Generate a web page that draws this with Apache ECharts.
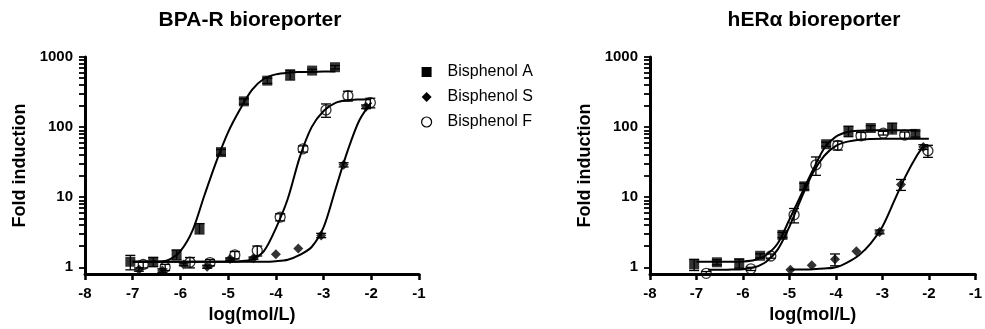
<!DOCTYPE html>
<html>
<head>
<meta charset="utf-8">
<title>BPA-R / hERa bioreporter</title>
<script src="https://cdn.jsdelivr.net/npm/echarts@6/dist/echarts.min.js"></script>
<style>
  html, body { margin: 0; padding: 0; background: #fff; }
  #chart { width: 985px; height: 329px; }
</style>
</head>
<body>
<div id="chart"></div>
<script>
// 坐标轴刻度
var yMajor = [1, 10, 100, 1000];
var yMinor = [2, 3, 4, 5, 6, 7, 8, 9, 20, 30, 40, 50, 60, 70, 80, 90, 200, 300, 400, 500, 600, 700, 800, 900];
var seriesNames = ["Bisphenol A", "Bisphenol S", "Bisphenol F"];

// ---- BPA-R bioreporter (left) ----
// Bisphenol A
var bpaA_x = [-7.05, -6.57, -6.08, -5.6, -5.15, -4.67, -4.18, -3.7, -3.24, -2.76];
var bpaA_y = [1.2, 1.2, 1.52, 3.6, 44, 233, 460, 560, 640, 715];
var bpaA_err = [0.28, 0.18, 0.24, 0.6, 4, 20, 40, 90, 30, 40];
var bpaA_fitX = [-7.0, -6.75, -6.5, -6.25, -6.0, -5.75, -5.5, -5.25, -5.0, -4.75, -4.5, -4.25, -4.0, -3.75, -3.5, -3.25, -3.0, -2.75];
var bpaA_fitY = [1.2, 1.2, 1.2, 1.27, 1.7, 3.3, 10.5, 32, 85, 180, 340, 490, 565, 598, 610, 616, 619, 620];
// Bisphenol S
var bpaS_x = [-6.87, -6.38, -5.93, -5.44, -4.96, -4.47, -4.0, -3.53, -3.05, -2.58, -2.11];
var bpaS_y = [0.93, 0.9, 1.1, 1.02, 1.31, 1.35, 1.53, 1.85, 2.85, 29, 195];
var bpaS_err = [0.05, 0.05, 0.05, 0.05, 0.05, 0.05, 0, 0, 0.2, 2, 12];
var bpaS_fitX = [-7.0, -6.75, -6.5, -6.25, -6.0, -5.75, -5.5, -5.25, -5.0, -4.75, -4.5, -4.25, -4.0, -3.75, -3.5, -3.25, -3.0, -2.75, -2.5, -2.25, -2.0];
var bpaS_fitY = [1.2, 1.2, 1.2, 1.2, 1.2, 1.2, 1.2, 1.2, 1.2, 1.2, 1.2, 1.2, 1.22, 1.28, 1.5, 1.95, 3.7, 13, 45, 125, 225];
// Bisphenol F
var bpaF_x = [-6.78, -6.32, -5.8, -5.38, -4.86, -4.39, -3.91, -3.43, -2.95, -2.49, -2.02];
var bpaF_y = [1.1, 1.0, 1.18, 1.17, 1.5, 1.73, 5.2, 49, 176, 280, 223];
var bpaF_err = [0.12, 0.1, 0.2, 0.12, 0.18, 0.28, 0.6, 5, 38, 45, 35];
var bpaF_fitX = [-7.0, -6.75, -6.5, -6.25, -6.0, -5.75, -5.5, -5.25, -5.0, -4.75, -4.5, -4.25, -4.0, -3.75, -3.5, -3.25, -3.0, -2.75, -2.5, -2.25, -2.0];
var bpaF_fitY = [1.2, 1.2, 1.2, 1.2, 1.2, 1.2, 1.2, 1.2, 1.2, 1.22, 1.3, 1.7, 3.6, 9.5, 37, 100, 170, 222, 242, 248, 250];

// ---- hERα bioreporter (right) ----
var herA_x = [-7.05, -6.56, -6.08, -5.63, -5.15, -4.68, -4.21, -3.73, -3.25, -2.79, -2.29];
var herA_y = [1.1, 1.18, 1.14, 1.46, 2.9, 14.3, 57, 88, 97, 97, 80];
var herA_err = [0.2, 0.1, 0.17, 0.1, 0.25, 1.5, 4, 15, 8, 17, 8];
var herA_fitX = [-7.0, -6.75, -6.5, -6.25, -6.0, -5.75, -5.5, -5.25, -5.0, -4.75, -4.5, -4.25, -4.0, -3.75, -3.5, -3.25, -3.0, -2.75, -2.5, -2.25];
var herA_fitY = [1.2, 1.2, 1.2, 1.2, 1.21, 1.27, 1.5, 2.2, 4.8, 10.8, 24, 50, 73, 85, 89, 90, 90, 90, 90, 90];

var herS_x = [-4.98, -4.52, -4.02, -3.56, -3.06, -2.6, -2.12];
var herS_y = [0.92, 1.07, 1.3, 1.7, 3.2, 15.2, 52];
var herS_err = [0, 0, 0.25, 0, 0.2, 2.7, 4];
var herS_fitX = [-5.0, -4.75, -4.5, -4.25, -4.0, -3.75, -3.5, -3.25, -3.0, -2.75, -2.5, -2.25, -2.1];
var herS_fitY = [0.93, 0.93, 0.94, 0.96, 1.0, 1.18, 1.5, 2.2, 3.8, 8.7, 20, 40, 55];

var herF_x = [-6.79, -5.83, -5.4, -4.9, -4.43, -3.96, -3.46, -2.98, -2.52, -2.02];
var herF_y = [0.82, 0.95, 1.45, 5.6, 29, 55, 75, 82, 77, 46];
var herF_err = [0.05, 0.05, 0.1, 1.3, 8.5, 8, 9, 5, 8, 9];
var herF_fitX = [-6.75, -6.5, -6.25, -6.0, -5.75, -5.5, -5.25, -5.0, -4.75, -4.5, -4.25, -4.0, -3.75, -3.5, -3.25, -3.0, -2.75, -2.5, -2.25, -2.0];
var herF_fitY = [0.92, 0.92, 0.93, 0.94, 1.0, 1.2, 1.8, 3.8, 9.5, 22, 39, 54, 62, 66, 67.5, 68, 68, 68, 68, 68];

var FONT = "'Liberation Sans', Arial, sans-serif";
var symbols = { "Bisphenol A": "rect", "Bisphenol S": "diamond", "Bisphenol F": "circle" };

function zip(xs, ys) {
  return xs.map(function (x, i) { return [x, ys[i]]; });
}
function errData(xs, ys, es) {
  var out = [];
  xs.forEach(function (x, i) {
    if (es[i] > 0) out.push([x, ys[i] - es[i], ys[i] + es[i]]);
  });
  return out;
}

// 误差棒
function renderErr(params, api) {
  var x = api.value(0);
  var top = api.coord([x, api.value(2)]);
  var bot = api.coord([x, Math.max(api.value(1), 0.8)]);
  var half = 5;
  var st = { stroke: "#000", lineWidth: 1.3 };
  return {
    type: "group",
    children: [
      { type: "line", shape: { x1: top[0], y1: top[1], x2: bot[0], y2: bot[1] }, style: st },
      { type: "line", shape: { x1: top[0] - half, y1: top[1], x2: top[0] + half, y2: top[1] }, style: st },
      { type: "line", shape: { x1: bot[0] - half, y1: bot[1], x2: bot[0] + half, y2: bot[1] }, style: st },
    ],
  };
}

function makeSeries(idx, name, xs, ys, es, fx, fy) {
  var list = [];
  list.push({
    type: "custom",
    name: name,
    xAxisIndex: idx,
    yAxisIndex: idx,
    renderItem: renderErr,
    encode: { x: 0, y: [1, 2] },
    data: errData(xs, ys, es),
    silent: true,
    z: 2,
  });
  list.push({
    type: "line",
    name: name,
    xAxisIndex: idx,
    yAxisIndex: idx,
    data: zip(fx, fy),
    smooth: 0.3,
    showSymbol: false,
    lineStyle: { color: "#000", width: 2 },
    z: 3,
  });
  var hollow = name === "Bisphenol F";
  list.push({
    type: "scatter",
    name: name,
    xAxisIndex: idx,
    yAxisIndex: idx,
    data: zip(xs, ys),
    symbol: symbols[name],
    symbolSize: 10,
    itemStyle: hollow
      ? { color: "rgba(255,255,255,0)", borderColor: "#000", borderWidth: 1.3 }
      : { color: "#000" },
    z: 4,
  });
  return list;
}

function xAxisCfg(gridIndex) {
  return {
    type: "value",
    gridIndex: gridIndex,
    min: -8,
    max: -1,
    interval: 1,
    name: "log(mol/L)",
    nameLocation: "middle",
    nameGap: 31,
    nameTextStyle: { fontFamily: FONT, fontWeight: "bold", fontSize: 18, color: "#000" },
    axisLine: { lineStyle: { color: "#000", width: 3 } },
    axisTick: { length: 6, lineStyle: { color: "#000", width: 2.5 } },
    axisLabel: { margin: 12, fontFamily: FONT, fontWeight: "bold", fontSize: 15, color: "#000" },
    splitLine: { show: false },
  };
}
function yAxisCfg(gridIndex) {
  return {
    type: "log",
    gridIndex: gridIndex,
    min: 0.8,
    max: 1000,
    name: "Fold induction",
    nameLocation: "middle",
    nameGap: 56,
    nameTextStyle: { fontFamily: FONT, fontWeight: "bold", fontSize: 18, color: "#000" },
    axisLine: { show: true, lineStyle: { color: "#000", width: 3 } },
    // 主刻度 + 对数次刻度
    axisTick: { show: true, length: 6, customValues: yMajor.concat(yMinor), lineStyle: { color: "#000", width: 1.8 } },
    axisLabel: {
      margin: 12,
      customValues: yMajor,
      formatter: function (v) { return String(v); },
      fontFamily: FONT, fontWeight: "bold", fontSize: 15, color: "#000",
    },
    splitLine: { show: false },
  };
}

var chart = echarts.init(document.getElementById("chart"));
var series = []
  .concat(makeSeries(0, "Bisphenol A", bpaA_x, bpaA_y, bpaA_err, bpaA_fitX, bpaA_fitY))
  .concat(makeSeries(0, "Bisphenol S", bpaS_x, bpaS_y, bpaS_err, bpaS_fitX, bpaS_fitY))
  .concat(makeSeries(0, "Bisphenol F", bpaF_x, bpaF_y, bpaF_err, bpaF_fitX, bpaF_fitY))
  .concat(makeSeries(1, "Bisphenol A", herA_x, herA_y, herA_err, herA_fitX, herA_fitY))
  .concat(makeSeries(1, "Bisphenol S", herS_x, herS_y, herS_err, herS_fitX, herS_fitY))
  .concat(makeSeries(1, "Bisphenol F", herF_x, herF_y, herF_err, herF_fitX, herF_fitY));

var option = {
  animation: false,
  backgroundColor: "#fff",
  graphic: [
    { type: "text", x: 250, y: 10, style: { text: "BPA-R bioreporter", align: "center", fontFamily: FONT, fontWeight: "bold", fontSize: 21, fill: "#000" } },
    { type: "text", x: 814, y: 10, style: { text: "hERα bioreporter", align: "center", fontFamily: FONT, fontWeight: "bold", fontSize: 21, fill: "#000" } },
  ],
  legend: {
    orient: "vertical",
    left: 416,
    top: 59,
    itemWidth: 10,
    itemHeight: 10,
    itemGap: 9,
    selectedMode: false,
    textStyle: { fontFamily: FONT, fontSize: 16, color: "#000", padding: [0, 0, 0, 11] },
    data: [
      { name: "Bisphenol A", icon: "rect", itemStyle: { color: "#000" } },
      { name: "Bisphenol S", icon: "diamond", itemStyle: { color: "#000" } },
      { name: "Bisphenol F", icon: "circle", itemStyle: { color: "#fff", borderColor: "#000", borderWidth: 1.2 } },
    ],
  },
  grid: [
    { left: 85, top: 57, width: 334, height: 220 },
    { left: 650, top: 57, width: 334, height: 220 },
  ],
  xAxis: [xAxisCfg(0), xAxisCfg(1)],
  yAxis: [yAxisCfg(0), yAxisCfg(1)],
  series: series,
};
chart.setOption(option);
</script>
</body>
</html>
